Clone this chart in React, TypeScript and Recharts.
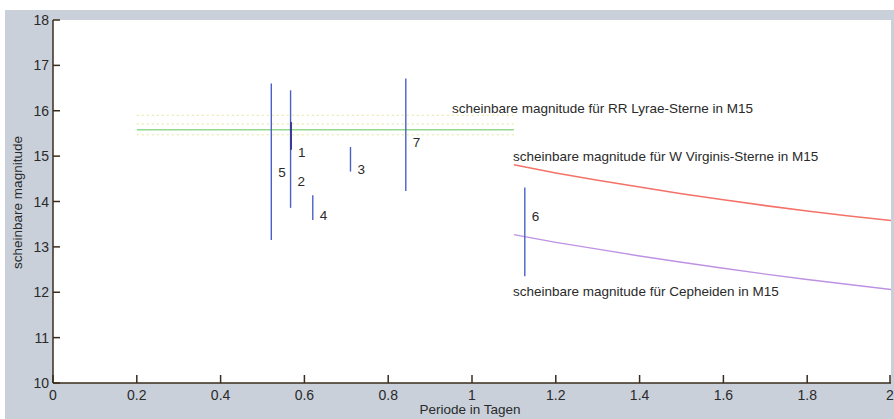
import React from "react";
import { ComposedChart, Line, XAxis, YAxis, Scatter, ReferenceArea, Label } from "recharts";

const periodTicks = [0, 0.2, 0.4, 0.6, 0.8, 1, 1.2, 1.4, 1.6, 1.8, 2];
const magnitudeTicks = [10, 11, 12, 13, 14, 15, 16, 17, 18];

// Stern: Periode (Tage), Helligkeitsbereich low..high, Höhe der Nummer
const stars = [
  { id: "5", period: 0.521, low: 13.15, high: 16.6, labelMag: 14.63 },
  { id: "2", period: 0.567, low: 13.86, high: 16.45, labelMag: 14.45 },
  { id: "1", period: 0.568, low: 15.14, high: 15.75, labelMag: 15.07 },
  { id: "4", period: 0.62, low: 13.59, high: 14.14, labelMag: 13.69 },
  { id: "3", period: 0.71, low: 14.66, high: 15.2, labelMag: 14.7 },
  { id: "7", period: 0.842, low: 14.23, high: 16.71, labelMag: 15.3 },
  { id: "6", period: 1.126, low: 12.35, high: 14.31, labelMag: 13.66 },
];

const rrLyrae = [
  { period: 0.2, mag: 15.58 },
  { period: 1.1, mag: 15.58 },
];
const rrLyraeDotted = [15.9, 15.71, 15.47];

const wVirginis = [
  { period: 1.1, mag: 14.81 },
  { period: 1.2, mag: 14.63 },
  { period: 1.3, mag: 14.47 },
  { period: 1.4, mag: 14.32 },
  { period: 1.5, mag: 14.17 },
  { period: 1.6, mag: 14.04 },
  { period: 1.7, mag: 13.91 },
  { period: 1.8, mag: 13.79 },
  { period: 1.9, mag: 13.68 },
  { period: 2.0, mag: 13.58 },
];

const cepheids = [
  { period: 1.1, mag: 13.27 },
  { period: 1.2, mag: 13.1 },
  { period: 1.3, mag: 12.95 },
  { period: 1.4, mag: 12.8 },
  { period: 1.5, mag: 12.66 },
  { period: 1.6, mag: 12.53 },
  { period: 1.7, mag: 12.4 },
  { period: 1.8, mag: 12.28 },
  { period: 1.9, mag: 12.17 },
  { period: 2.0, mag: 12.06 },
];

const notes = [
  { period: 0.952, mag: 15.94, text: "scheinbare magnitude für RR Lyrae-Sterne in M15" },
  { period: 1.098, mag: 14.9, text: "scheinbare magnitude für W Virginis-Sterne in M15" },
  { period: 1.098, mag: 11.91, text: "scheinbare magnitude für Cepheiden in M15" },
];

const FONT = "'Liberation Sans', Arial, sans-serif";
const TEXT = "#2a2a2a";
const AXIS = "#3a2c1c";
const BAR = "#4a62c4";

function YTick(props: any) {
  const { x, y, payload } = props;
  return (
    <g>
      <line x1={x} y1={y} x2={x + 7} y2={y} stroke={AXIS} strokeWidth={1.5} />
      <text x={x - 4} y={y} textAnchor="end" dominantBaseline="central" fontSize={14} fill={TEXT} fontFamily={FONT}>
        {payload.value}
      </text>
    </g>
  );
}

function XTick(props: any) {
  const { x, y, payload } = props;
  return (
    <g>
      <line x1={x} y1={y} x2={x} y2={y - 8} stroke={AXIS} strokeWidth={1.5} />
      <text x={x} y={y + 17} textAnchor="middle" fontSize={14} fill={TEXT} fontFamily={FONT}>
        {payload.value}
      </text>
    </g>
  );
}

export default function App() {
  return (
    <div style={{ position: "absolute", left: 0, top: 0, width: 894, height: 419, background: "#fff" }}>
      <div style={{ position: "absolute", left: 5, top: 10, right: 0, bottom: 0, background: "#c9d0da" }} />
      <div style={{ position: "absolute", left: 0, top: 0 }}>
        <ComposedChart width={894} height={419} margin={{ top: 20, right: 3, bottom: 0, left: 0 }}>
          <XAxis
            dataKey="period"
            type="number"
            domain={[0, 2]}
            ticks={periodTicks}
            allowDataOverflow
            height={36}
            tickLine={false}
            tickSize={0}
            tickMargin={0}
            tick={<XTick />}
            axisLine={{ stroke: AXIS, strokeWidth: 1.5 }}
          >
            <Label
              content={(p: any) => (
                <text
                  x={p.viewBox.x + p.viewBox.width / 2 - 2}
                  y={p.viewBox.y + 31}
                  textAnchor="middle"
                  fontSize={13.5}
                  fill={TEXT}
                  fontFamily={FONT}
                >
                  Periode in Tagen
                </text>
              )}
            />
          </XAxis>
          <YAxis
            type="number"
            domain={[10, 18]}
            ticks={magnitudeTicks}
            allowDataOverflow
            width={53}
            tickLine={false}
            tickSize={0}
            tickMargin={0}
            tick={<YTick />}
            axisLine={{ stroke: AXIS, strokeWidth: 1.5 }}
          >
            <Label
              content={(p: any) => {
                const cx = p.viewBox.x + 17;
                const cy = p.viewBox.y + p.viewBox.height / 2 + 1;
                return (
                  <text
                    x={cx}
                    y={cy}
                    transform={`rotate(-90 ${cx} ${cy})`}
                    textAnchor="middle"
                    dominantBaseline="central"
                    fontSize={13.5}
                    fill={TEXT}
                    fontFamily={FONT}
                  >
                    scheinbare magnitude
                  </text>
                );
              }}
            />
          </YAxis>
          <ReferenceArea x1={0} x2={2} y1={10} y2={18} fill="#fff" fillOpacity={1} stroke="none" />

          {rrLyraeDotted.map((m) => (
            <Line
              key={`rrd-${m}`}
              data={rrLyrae.map((d) => ({ period: d.period, mag: m }))}
              dataKey="mag"
              stroke="#e6e69a"
              strokeWidth={1}
              strokeDasharray="2 3"
              dot={false}
              isAnimationActive={false}
            />
          ))}
          <Line data={rrLyrae} dataKey="mag" stroke="#94d88c" strokeWidth={1.6} dot={false} isAnimationActive={false} />
          <Line data={wVirginis} dataKey="mag" stroke="#f47268" strokeWidth={1.6} dot={false} isAnimationActive={false} />
          <Line data={cepheids} dataKey="mag" stroke="#be92e2" strokeWidth={1.4} dot={false} isAnimationActive={false} />

          {stars.map((s) => (
            <Line
              key={`star-${s.id}`}
              data={[
                { period: s.period, mag: s.low },
                { period: s.period, mag: s.high },
              ]}
              dataKey="mag"
              stroke={s.id === "1" ? "#3a3c9c" : BAR}
              strokeWidth={s.id === "1" ? 2 : 1.4}
              dot={false}
              isAnimationActive={false}
            />
          ))}

          <Scatter
            data={stars}
            dataKey="labelMag"
            isAnimationActive={false}
            shape={(p: any) => (
              <text x={p.cx + 7} y={p.cy} dominantBaseline="central" fontSize={13.5} fill={TEXT} fontFamily={FONT}>
                {p.payload.id}
              </text>
            )}
          />
          <Scatter
            data={notes}
            dataKey="mag"
            isAnimationActive={false}
            shape={(p: any) => (
              <text x={p.cx} y={p.cy} fontSize={13.5} fill={TEXT} fontFamily={FONT}>
                {p.payload.text}
              </text>
            )}
          />
        </ComposedChart>
      </div>
    </div>
  );
}
